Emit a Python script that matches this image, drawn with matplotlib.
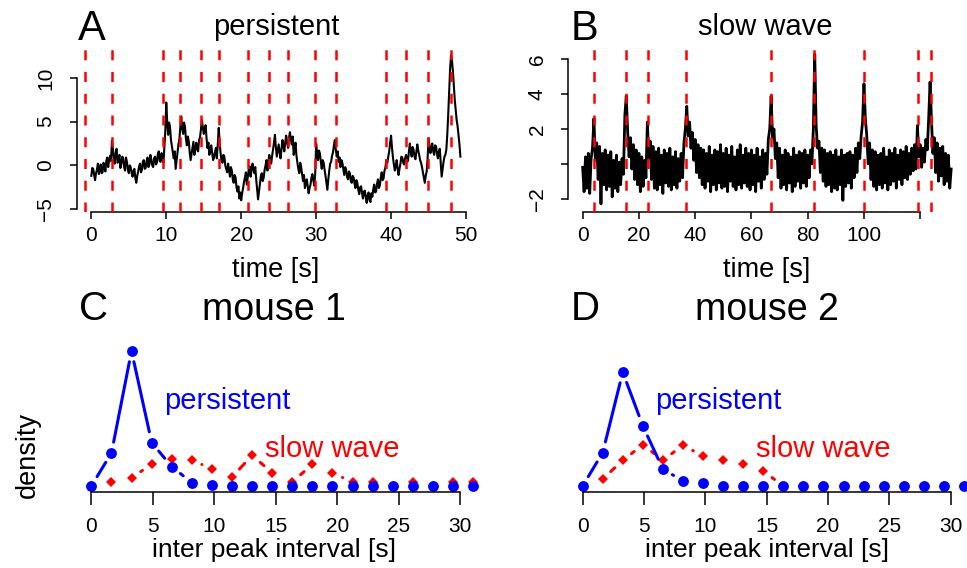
import numpy as np
import matplotlib
matplotlib.use("Agg")
import matplotlib.pyplot as plt

plt.rcParams['font.family'] = ['Liberation Sans', 'DejaVu Sans']

# ---- data ----
# persistent trace (panel A), sampled every 0.125 s
persistent_dt = 0.125
persistent_trace = [
    -1.2, -0.3, -0.4, -1.1, -1.7, -0.9, -0.5, 0.2, -1.0, -0.6, 0.1, -0.9, -0.8, 0.3, -0.1, -0.7, 0.5, 0.9, -0.2, 0.6,
    1.1, 0.5, 2.8, 1.9, 0.7, 0.2, 1.5, 1.9, 0.3, 0.6, 1.2, -0.3, 0.2, 1.0, 0.8, -0.2, -0.6, 0.9, 0.4, -0.5,
    -0.9, 0.0, -0.2, -0.9, -1.3, -0.6, -0.4, -1.5, -2.0, -1.2, -0.7, -0.1, 0.2, -0.8, -0.5, 0.4, 0.6, -0.4, -0.3, 0.5,
    0.9, -0.2, 0.1, 1.2, 0.7, 0.0, -0.2, 0.8, 1.0, 0.1, 0.3, 1.3, 1.6, 0.5, 0.4, 1.4, 0.8, 0.3, 2.2, 4.0,
    7.2, 5.0, 3.5, 4.9, 4.4, 2.9, 2.2, 1.5, 0.8, 1.6, -0.4, 0.5, 1.4, 2.4, 3.0, 4.4, 5.6, 4.2, 3.6, 4.9,
    4.4, 3.0, 2.3, 3.3, 2.8, 1.5, 0.6, 1.3, 2.0, 2.7, 1.2, 1.8, 2.6, 1.9, 1.6, 2.9, 3.2, 4.1, 5.2, 4.4,
    3.6, 4.0, 4.6, 3.1, 2.0, 2.6, 1.2, 1.9, 2.3, 1.4, 0.6, 0.9, 1.5, 2.0, 0.8, 2.4, 4.3, 2.6, 1.4, 0.5,
    0.3, 1.2, 1.0, 0.0, -0.4, -0.8, 0.2, -0.5, -1.3, -0.2, -0.6, -1.6, -2.0, -1.1, -1.4, -2.5, -3.0, -2.4, -3.8, -3.1,
    -4.0, -3.2, -2.6, -1.9, -1.4, -0.8, -2.2, -1.3, -0.5, -0.1, -1.3, -0.6, 0.2, -0.4, -0.9, -0.2, -1.6, -2.7, -3.9, -3.0,
    -2.0, -1.2, -0.9, -1.8, -1.4, -0.5, 0.0, 0.6, -0.6, 0.4, 1.2, 0.6, 0.2, 1.1, 1.8, 2.6, 3.5, 2.1, 1.0, 1.7,
    2.4, 1.5, 0.8, 1.8, 2.9, 2.3, 1.6, 2.6, 3.4, 2.6, 2.0, 3.1, 3.8, 3.0, 2.4, 3.3, 1.2, 1.8, 2.6, 1.1,
    0.3, -0.4, -0.9, 0.3, -0.2, -1.0, -1.8, -1.1, -2.6, -2.0, -1.6, -2.4, -3.2, -2.6, -2.2, -1.4, -1.0, -1.7, -2.3, -1.0,
    2.5, 1.4, 0.6, 1.7, 1.4, 0.4, -0.4, 0.6, 0.3, -0.5, -1.2, -2.0, -2.8, -1.6, -0.6, 0.2, 0.4, 1.1, 1.5, 2.3,
    2.9, 1.8, 1.0, 1.6, 0.4, 0.9, -0.2, 0.6, 0.3, -0.4, -1.1, -0.2, -0.5, -1.3, -1.6, -0.7, -0.9, -1.8, -2.0, -1.2,
    -1.4, -2.1, -2.6, -1.7, -2.0, -2.8, -3.3, -2.5, -2.4, -3.2, -3.8, -3.0, -2.9, -3.7, -4.3, -3.4, -3.1, -4.0, -4.2, -3.2,
    -3.6, -2.7, -2.2, -3.1, -3.0, -2.1, -1.6, -2.6, -2.3, -1.4, -0.8, -1.7, -1.5, -0.6, -0.2, 0.6, 0.3, 1.0, 1.6, 2.6,
    3.4, 2.0, 0.9, 0.1, -0.6, -0.1, 0.6, -0.4, -1.1, -0.4, 0.2, 1.0, 0.9, 0.3, 0.1, 0.8, 1.2, 0.4, 0.5, 1.5,
    2.5, 1.6, 1.0, 2.1, 1.8, 1.0, 0.7, 1.6, 2.4, 1.7, 1.2, 0.6, 0.3, -0.2, -0.8, -1.4, -2.0, -1.2, -0.7, 0.8,
    3.1, 2.2, 1.4, 2.1, 2.5, 1.6, 1.2, 2.3, 2.2, 1.3, 0.8, 1.6, 1.9, 0.2, -1.3, -0.4, 0.4, 1.0, 1.2, 1.8,
    3.5, 5.8, 8.5, 11.0, 12.6, 12.0, 10.8, 9.2, 7.5, 6.3, 5.2, 4.5, 3.4, 2.4, 1.0,
]
persistent_peaks = [-0.89, 2.80, 9.61, 11.83, 14.64, 16.99, 20.86, 23.67, 26.29,
                    29.89, 32.70, 39.28, 42.04, 44.98, 47.96]

# slow wave trace (panel B), sampled every 0.5 s
slow_dt = 0.5
slow_trace = [
    -0.2, -1.6, 0.4, -1.4, 0.6, -1.7, 0.3, 0.9, 2.6, 0.2, 1.2, -0.9, 1.0, -2.3, 0.6, -1.2, 0.8, -1.5, 0.5, -1.3,
    0.7, -1.9, 0.2, -1.4, 0.5, -1.6, 0.1, -1.2, 0.3, -0.6, 2.8, 3.9, 1.8, 0.4, 1.5, -0.3, 1.1, -0.9, 0.8, -1.2,
    0.6, -1.6, 0.4, -1.3, 0.2, -0.8, 2.4, 0.3, 1.3, -0.9, 1.0, -1.4, 0.7, -1.5, 0.9, -1.2, 0.5, -1.7, 0.8, -1.1,
    0.6, -1.3, 0.9, -1.5, 0.4, -1.2, 0.7, -1.4, 0.3, -1.0, 0.6, -0.8, 1.2, 2.0, 3.3, 1.6, 2.4, 0.9, 1.8, 0.2,
    1.4, -0.5, 1.1, -0.8, 0.9, -1.2, 0.8, -1.4, 0.6, -1.0, 1.0, -1.6, 0.5, -1.2, 0.8, -1.5, 0.7, -1.1, 1.1, -1.4,
    0.6, -1.3, 0.9, -1.6, 0.5, -1.0, 1.0, -1.3, 0.4, -1.5, 0.8, -1.2, 1.1, -1.4, 0.5, -1.1, 0.9, -1.3, 0.6, -1.5,
    0.8, -1.2, 0.5, -1.6, 0.9, -1.0, 0.4, -1.4, 0.8, -0.9, 0.6, -0.6, 1.4, 2.0, 3.9, 1.5, 2.0, 0.3, 1.2, -0.8,
    0.9, -1.4, 0.5, -1.2, 0.8, -1.5, 0.6, -1.1, 0.4, -1.6, 0.9, -1.3, 0.5, -1.0, 0.7, -1.4, 0.6, -1.1, 0.8, -1.3,
    0.5, -0.8, 0.8, 0.0, 2.0, 6.3, 2.2, 0.9, 1.3, -0.5, 0.9, -1.0, 0.8, -1.3, 0.6, -1.2, 0.7, -1.6, 0.5, -1.4,
    0.8, -1.5, 0.4, -1.2, 0.8, -2.1, 0.5, -1.3, 0.6, -1.1, 0.7, -1.4, 0.5, -0.8, 0.9, -0.5, 1.2, 0.3, 1.6, 2.4,
    4.6, 2.6, 1.6, 0.0, 1.2, -0.9, 0.8, -1.3, 0.7, -1.5, 0.5, -1.2, 0.6, -1.4, 0.9, -1.1, 0.4, -1.5, 0.8, -1.2,
    0.6, -1.0, 0.9, -1.4, 0.5, -0.9, 0.8, -1.2, 0.7, -0.8, 1.0, -0.9, 0.6, -0.6, 0.9, -0.4, 1.1, -0.3, 2.2, 0.4,
    1.1, -0.2, 0.9, 0.1, 1.4, 0.8, 2.6, 4.7, 2.5, 0.6, 1.5, -0.5, 1.2, -1.0, 0.9, -0.7, 1.0, -1.2, 0.6, -1.0,
    0.5, -1.4, -0.3,
]
slow_peaks = [3.91, 15.29, 23.22, 36.85, 66.83, 82.36, 100.13, 119.2, 123.7]

# inter peak interval densities (panels C, D)
ipi_bins = [0, 1.64, 3.27, 4.91, 6.54, 8.18, 9.81, 11.45, 13.08, 14.72,
            16.35, 17.99, 19.62, 21.26, 22.89, 24.53, 26.16, 27.80, 29.43, 31.07]
mouse1_persistent = [0.0, 0.086, 0.351, 0.113, 0.050, 0.009, 0.002, 0.001, 0.0, 0.0,
                     0.0, 0.0, 0.0, 0.0, 0.0, 0.0, 0.0, 0.0, 0.0, 0.0]
mouse1_slow = [0.0, 0.010, 0.022, 0.056, 0.069, 0.068, 0.044, 0.023, 0.080, 0.034,
               0.011, 0.056, 0.034, 0.010, 0.010, 0.0, 0.010, 0.0, 0.010, 0.010]
mouse2_persistent = [0.0, 0.087, 0.296, 0.156, 0.044, 0.013, 0.009, 0.001, 0.001, 0.001,
                     0.0, 0.0, 0.0, 0.0, 0.0, 0.0, 0.0, 0.0, 0.0, 0.0]
mouse2_slow = [0.0, 0.018, 0.067, 0.107, 0.067, 0.106, 0.078, 0.067, 0.058, 0.039,
               0.0, 0.0, 0.0, 0.0, 0.0, 0.0, 0.0, 0.0, 0.0, 0.0]

W, H = 967, 568
fig = plt.figure(figsize=(W / 100, H / 100), dpi=100)


def px_axes(left, top, right, bottom):
    return fig.add_axes([left / W, 1 - bottom / H, (right - left) / W, (bottom - top) / H])


def ftext(x, y, s, **kw):
    fig.text(x / W, 1 - y / H, s, **kw)


def style_axes(ax, tick_len, pad_x, pad_y=10.5):
    ax.spines['top'].set_visible(False)
    ax.spines['right'].set_visible(False)
    for sp in ax.spines.values():
        sp.set_linewidth(1.1)
    ax.tick_params(direction='out', length=tick_len, width=1.1, labelsize=15)
    ax.tick_params(axis='x', pad=pad_x)
    ax.tick_params(axis='y', pad=pad_y)
    ax.patch.set_visible(False)


def draw_trace(ax, values, dt, peaks, lw):
    t = np.arange(len(values)) * dt
    ax.plot(t, values, color='black', lw=lw, zorder=2)
    for p in peaks:
        ax.axvline(p, color='red', lw=1.8, dashes=(4, 4.7), zorder=3)


def draw_b(ax, xs, ys, color, marker, ms, gap=11):
    # points joined by lines with gaps around each point
    pts = ax.transData.transform(np.column_stack([xs, ys]))
    inv = ax.transData.inverted()
    for p, q in zip(pts[:-1], pts[1:]):
        d = q - p
        L = np.hypot(d[0], d[1])
        if L <= 2 * gap:
            continue
        u = d / L
        a = inv.transform(p + u * gap)
        b = inv.transform(q - u * gap)
        ax.plot([a[0], b[0]], [a[1], b[1]], color=color, lw=2.2,
                solid_capstyle='round', clip_on=False)
    ax.plot(xs, ys, linestyle='none', marker=marker, ms=ms, color=color,
            markeredgewidth=0, clip_on=False)


# ---- panel A ----
axA = px_axes(77, 47, 475, 212)
axA.set_xlim(-1.913, 51.2)
axA.set_ylim(-5.34, 13.55)
draw_trace(axA, persistent_trace, persistent_dt, persistent_peaks, 1.5)
axA.set_xticks([0, 10, 20, 30, 40, 50])
axA.set_yticks([-5, 0, 5, 10])
axA.set_yticklabels(['\u22125', '0', '5', '10'], rotation=90, va='center')
axA.spines['bottom'].set_bounds(0, 50)
axA.spines['left'].set_bounds(-5, 10)
style_axes(axA, 5, 5)

# ---- panel B ----
axB = px_axes(568.3, 47, 962.7, 211.7)
axB.set_xlim(-5.11, 135.1)
axB.set_ylim(-2.75, 6.71)
draw_trace(axB, slow_trace, slow_dt, slow_peaks, 2.0)
axB.set_xticks([0, 20, 40, 60, 80, 100, 120])
axB.set_xticklabels(['0', '20', '40', '60', '80', '100', ''])
axB.set_yticks([-2, 0, 2, 4, 6])
axB.set_yticklabels(['\u22122', '', '2', '4', '6'], rotation=90, va='center')
axB.spines['bottom'].set_bounds(0, 120)
axB.spines['left'].set_bounds(-2, 6)
style_axes(axB, 5, 5)

# ---- panels C, D ----
for left, right, pers, slow in [(76.1, 488.3, mouse1_persistent, mouse1_slow),
                                (567.4, 979.0, mouse2_persistent, mouse2_slow)]:
    ax = px_axes(left, 345.6, right, 491.7)
    ax.set_xlim(-1.24, 32.3)
    ax.set_ylim(-0.0148, 0.365)
    draw_b(ax, ipi_bins, slow, 'red', 'D', 5.5)
    draw_b(ax, ipi_bins, pers, 'blue', 'o', 7.8)
    ax.set_xticks([0, 5, 10, 15, 20, 25, 30])
    ax.set_yticks([])
    ax.spines['left'].set_visible(False)
    ax.spines['bottom'].set_bounds(0, 30)
    style_axes(ax, 9.5, 8.5)
    ax.text(5.9, 0.199, 'persistent', color='blue', fontsize=21, ha='left', va='baseline')
    ax.text(14.1, 0.076, 'slow wave', color='red', fontsize=21, ha='left', va='baseline')

# ---- texts ----
ftext(78, 40, 'A', fontsize=30, va='baseline')
ftext(570.7, 40, 'B', fontsize=30, va='baseline')
ftext(79, 320, 'C', fontsize=29, va='baseline')
ftext(570.7, 320, 'D', fontsize=29, va='baseline')
ftext(276, 35, 'persistent', fontsize=21, ha='center', va='baseline')
ftext(765.5, 35, 'slow wave', fontsize=21, ha='center', va='baseline')
ftext(274, 320, 'mouse 1', fontsize=27, ha='center', va='baseline')
ftext(767, 320, 'mouse 2', fontsize=27, ha='center', va='baseline')
ftext(275.3, 276.7, 'time [s]', fontsize=19.5, ha='center', va='baseline')
ftext(766.7, 276.7, 'time [s]', fontsize=19.5, ha='center', va='baseline')
ftext(274.5, 557, 'inter peak interval [s]', fontsize=19, ha='center', va='baseline')
ftext(767, 557, 'inter peak interval [s]', fontsize=19, ha='center', va='baseline')
ftext(28.3, 411.7, 'density', fontsize=19.5, rotation=90, ha='right', va='center',
      rotation_mode='anchor')

fig.savefig('out.png', dpi=100)
